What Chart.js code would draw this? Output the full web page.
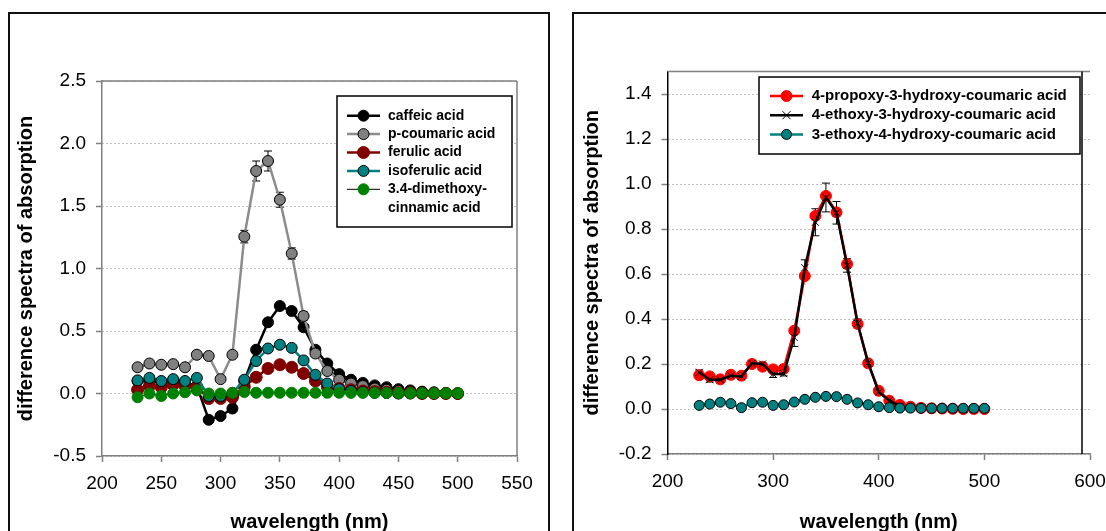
<!DOCTYPE html>
<html>
<head>
<meta charset="utf-8">
<script src="https://cdn.jsdelivr.net/npm/chart.js@4.4.0/dist/chart.umd.min.js"></script>
<style>
html, body { margin: 0; padding: 0; background: #fff; overflow: hidden; width: 1106px; height: 531px; }
.panel { position: absolute; box-sizing: border-box; border: 2px solid #111; }
#p1 { left: 8px; top: 12px; width: 542px; height: 540px; }
#p2 { left: 572px; top: 12px; width: 600px; height: 540px; }
canvas { position: absolute; }
#c1 { left: 9px; top: 13px; width: 540px; height: 521px; }
#c2 { left: 573px; top: 13px; width: 560px; height: 521px; }
</style>
</head>
<body>
<div class="panel" id="p1"></div>
<div class="panel" id="p2"></div>
<canvas id="c1" width="540" height="521"></canvas>
<canvas id="c2" width="560" height="521"></canvas>
<script>
// wavelengths (nm), same for every series
var wavelengths = [230, 240, 250, 260, 270, 280, 290, 300, 310, 320, 330, 340, 350, 360,
                   370, 380, 390, 400, 410, 420, 430, 440, 450, 460, 470, 480, 490, 500];

// left panel
var leftNames = ['caffeic acid', 'p-coumaric acid', 'ferulic acid', 'isoferulic acid', '3.4-dimethoxy-cinnamic acid'];
var leftLegend = [['caffeic acid'], ['p-coumaric acid'], ['ferulic acid'], ['isoferulic acid'], ['3.4-dimethoxy-', 'cinnamic acid']];
var caffeic = [0.10, 0.10, 0.09, 0.10, 0.09, 0.06, -0.21, -0.18, -0.12, 0.10, 0.35, 0.57, 0.70, 0.66,
               0.53, 0.35, 0.24, 0.155, 0.11, 0.085, 0.065, 0.05, 0.035, 0.025, 0.015, 0.01, 0.005, 0.0];
var pCoumaric = [0.21, 0.24, 0.23, 0.235, 0.21, 0.31, 0.30, 0.115, 0.31, 1.255, 1.78, 1.86, 1.55, 1.12,
                 0.62, 0.32, 0.18, 0.11, 0.08, 0.06, 0.04, 0.03, 0.02, 0.015, 0.01, 0.005, 0.003, 0.0];
var pCoumaricErr = [0, 0, 0, 0, 0, 0, 0, 0, 0, 0.05, 0.08, 0.08, 0.06, 0.045,
                    0.035, 0, 0, 0, 0, 0, 0, 0, 0, 0, 0, 0, 0, 0];
var ferulic = [0.03, 0.06, 0.05, 0.07, 0.06, 0.05, -0.04, -0.04, -0.03, 0.055, 0.13, 0.20, 0.23, 0.21,
               0.16, 0.10, 0.055, 0.04, 0.03, 0.02, 0.015, 0.01, 0.005, 0.005, 0.0, 0.0, 0.0, 0.0];
var isoferulic = [0.105, 0.125, 0.10, 0.115, 0.10, 0.125, -0.02, -0.02, 0.005, 0.11, 0.26, 0.36, 0.39, 0.365,
                  0.265, 0.15, 0.08, 0.035, 0.02, 0.01, 0.005, 0.005, 0.0, 0.0, 0.0, 0.0, 0.0, 0.0];
var dimethoxy = [-0.03, 0.0, -0.02, 0.0, 0.01, 0.025, 0.0, 0.0, 0.005, 0.012, 0.006, 0.006, 0.006, 0.006,
                 0.006, 0.006, 0.006, 0.006, 0.005, 0.005, 0.005, 0.004, 0.004, 0.003, 0.003, 0.002, 0.002, 0.002];
var leftXTicks = [200, 550, 50];
var leftYTicks = [-0.5, 2.5, 0.5];

// right panel
var rightNames = ['4-propoxy-3-hydroxy-coumaric acid', '4-ethoxy-3-hydroxy-coumaric acid', '3-ethoxy-4-hydroxy-coumaric acid'];
var propoxy = [0.15, 0.145, 0.132, 0.152, 0.148, 0.20, 0.188, 0.176, 0.178, 0.348, 0.591, 0.858, 0.947, 0.874,
               0.644, 0.378, 0.203, 0.081, 0.037, 0.018, 0.01, 0.005, 0.003, 0.002, 0.001, 0.0, 0.0, 0.0];
var ethoxy = [0.163, 0.13, 0.13, 0.148, 0.145, 0.203, 0.20, 0.155, 0.157, 0.318, 0.628, 0.83, 0.94, 0.872,
              0.638, 0.38, 0.205, 0.075, 0.038, 0.012, 0.005, 0.003, 0.002, 0.001, 0.0, 0.0, 0.0, 0.0];
var ethoxyErr = [0.01, 0.01, 0.005, 0.005, 0.005, 0.005, 0.005, 0.015, 0.01, 0.04, 0.035, 0.06, 0.064, 0.05,
                 0.03, 0.02, 0.01, 0.005, 0, 0, 0, 0, 0, 0, 0, 0, 0, 0];
var ethoxy34 = [0.016, 0.022, 0.03, 0.024, 0.006, 0.028, 0.03, 0.016, 0.019, 0.031, 0.043, 0.052, 0.056, 0.055,
                0.043, 0.027, 0.019, 0.01, 0.006, 0.004, 0.004, 0.003, 0.003, 0.003, 0.003, 0.003, 0.003, 0.003];
var rightXTicks = [200, 600, 100];
var rightYTicks = [-0.2, 1.5, 0.2];

var F = "'Liberation Sans', Arial, sans-serif";
Chart.defaults.font.family = F;
Chart.defaults.color = '#000';

function pts(vals) {
  return vals.map(function(v, i) { return {x: wavelengths[i], y: v}; });
}

function drawMarker(ctx, ds, x, y) {
  var r = ds.pointRadius;
  ctx.save();
  ctx.lineWidth = ds.pointBorderWidth;
  ctx.strokeStyle = ds.pointBorderColor;
  ctx.fillStyle = ds.pointBackgroundColor;
  ctx.beginPath();
  if (ds.pointStyle == 'crossRot') {
    ctx.moveTo(x - r * 0.8, y - r * 0.8); ctx.lineTo(x + r * 0.8, y + r * 0.8);
    ctx.moveTo(x + r * 0.8, y - r * 0.8); ctx.lineTo(x - r * 0.8, y + r * 0.8);
    ctx.stroke();
  } else {
    ctx.arc(x, y, r, 0, Math.PI * 2);
    ctx.fill();
    if (ds.pointBorderWidth > 0) ctx.stroke();
  }
  ctx.restore();
}

// error bars, drawn under the markers
var errorBars = {
  id: 'errorBars',
  beforeDatasetsDraw: function(chart) {
    var ctx = chart.ctx, xs = chart.scales.x, ys = chart.scales.y;
    chart.data.datasets.forEach(function(ds) {
      if (!ds.errors) return;
      ctx.save();
      ctx.strokeStyle = '#000';
      ctx.lineWidth = 1;
      ds.data.forEach(function(p, i) {
        var e = ds.errors[i];
        if (!e) return;
        var x = xs.getPixelForValue(p.x);
        var y1 = ys.getPixelForValue(p.y + e), y2 = ys.getPixelForValue(p.y - e);
        ctx.beginPath();
        ctx.moveTo(x, y1); ctx.lineTo(x, y2);
        ctx.moveTo(x - 4, y1); ctx.lineTo(x + 4, y1);
        ctx.moveTo(x - 4, y2); ctx.lineTo(x + 4, y2);
        ctx.stroke();
      });
      ctx.restore();
    });
  }
};

// gray frame round the plot area
var plotFrame = {
  id: 'plotFrame',
  afterDatasetsDraw: function(chart, args, o) {
    var a = chart.chartArea, ctx = chart.ctx;
    ctx.save();
    ctx.lineWidth = 1.5;
    ctx.strokeStyle = o.color;
    ctx.beginPath();
    ctx.moveTo(a.left, a.top); ctx.lineTo(a.right, a.top);
    ctx.stroke();
    ctx.strokeStyle = o.rightColor;
    ctx.beginPath();
    ctx.moveTo(a.right - o.rightInset, a.top); ctx.lineTo(a.right - o.rightInset, a.bottom);
    ctx.stroke();
    ctx.restore();
  }
};

// legend box inside the plot
var boxLegend = {
  id: 'boxLegend',
  afterDraw: function(chart, args, o) {
    var ctx = chart.ctx;
    ctx.save();
    ctx.fillStyle = '#fff';
    ctx.fillRect(o.x, o.y, o.w, o.h);
    ctx.strokeStyle = '#000';
    ctx.lineWidth = 1.5;
    ctx.strokeRect(o.x, o.y, o.w, o.h);
    ctx.font = 'bold ' + o.size + 'px ' + F;
    ctx.textBaseline = 'middle';
    var row = 0;
    chart.data.datasets.forEach(function(ds, i) {
      var y = o.y + o.firstRow + row * o.rowH;
      ctx.strokeStyle = ds.borderColor;
      ctx.lineWidth = ds.borderWidth;
      ctx.beginPath();
      ctx.moveTo(o.x + o.lineX0, y); ctx.lineTo(o.x + o.lineX1, y);
      ctx.stroke();
      drawMarker(ctx, ds, o.x + (o.lineX0 + o.lineX1) / 2, y);
      ctx.fillStyle = '#000';
      o.labels[i].forEach(function(t, k) {
        ctx.fillText(t, o.x + o.textX, y + k * o.rowH);
      });
      row += o.labels[i].length;
    });
    ctx.restore();
  }
};

function axes(xt, yt, xh, yw, titlePad, leftColor, filterTop) {
  return {
    x: {
      type: 'linear', min: xt[0], max: xt[1],
      ticks: {stepSize: xt[2], font: {size: 19}, padding: 10, maxRotation: 0, color: '#000'},
      grid: {drawOnChartArea: false, drawTicks: true, tickLength: 6, tickColor: '#808080', tickWidth: 1.5},
      border: {display: true, color: '#808080', width: 1.5},
      title: {display: true, text: 'wavelength (nm)', font: {size: 20, weight: 'bold'}, color: '#000', padding: 0},
      afterFit: function(s) { s.height = xh; }
    },
    y: {
      type: 'linear', min: yt[0], max: yt[1],
      ticks: {stepSize: yt[2], font: {size: 19}, padding: 10, color: '#000',
              callback: function(v) { return v.toFixed(1); }},
      grid: {color: '#808080', lineWidth: 1, drawTicks: true, tickLength: 6, tickColor: '#808080', tickWidth: 1.5},
      border: {display: true, color: leftColor, width: 1.5, dash: [1, 3]},
      title: {display: true, text: 'difference spectra of absorption', font: {size: 20, weight: 'bold'},
              color: '#000', padding: {top: titlePad, bottom: 0}},
      afterBuildTicks: function(s) {
        if (filterTop) s.ticks = s.ticks.filter(function(t) { return t.value < filterTop; });
      },
      afterFit: function(s) { s.width = yw; }
    }
  };
}

function line(label, values, color, width, fill, border, radius, style, order) {
  return {
    label: label, data: pts(values), borderColor: color, borderWidth: width,
    pointBackgroundColor: fill, pointBorderColor: border, pointBorderWidth: 1,
    pointRadius: radius, pointStyle: style || 'circle', order: order, tension: 0, fill: false
  };
}

var leftSets = [
  line(leftNames[0], caffeic, '#000000', 2.5, '#000000', '#000000', 5.5, 'circle', 5),
  line(leftNames[1], pCoumaric, '#8c8c8c', 2.5, '#808080', '#000000', 5.5, 'circle', 4),
  line(leftNames[2], ferulic, '#800000', 2.5, '#800000', '#800000', 6, 'circle', 3),
  line(leftNames[3], isoferulic, '#008080', 2.5, '#008080', '#000000', 5.5, 'circle', 2),
  line(leftNames[4], dimethoxy, '#000000', 1, '#008000', '#008000', 5.5, 'circle', 1)
];
leftSets[1].errors = pCoumaricErr;

new Chart(document.getElementById('c1'), {
  type: 'line',
  data: {datasets: leftSets},
  options: {
    responsive: false, animation: false, events: [],
    layout: {padding: {top: 68, right: 32, left: 0, bottom: 0}},
    scales: axes(leftXTicks, leftYTicks, 78, 93, 5, '#808080', null),
    plugins: {
      legend: {display: false}, tooltip: {enabled: false},
      plotFrame: {color: '#808080', rightColor: '#808080', rightInset: 0},
      boxLegend: {x: 328, y: 83, w: 175, h: 131, firstRow: 19.7, rowH: 18.4,
                  lineX0: 10, lineX1: 43, textX: 51, size: 14, labels: leftLegend}
    }
  },
  plugins: [errorBars, plotFrame, boxLegend]
});

var rightSets = [
  line(rightNames[0], propoxy, '#ff0000', 2.5, '#ff0000', '#ff0000', 5.5, 'circle', 3),
  line(rightNames[1], ethoxy, '#000000', 2.5, '#000000', '#000000', 5, 'crossRot', 2),
  line(rightNames[2], ethoxy34, '#008080', 2.5, '#008080', '#000000', 5, 'circle', 1)
];
rightSets[1].errors = ethoxyErr;

new Chart(document.getElementById('c2'), {
  type: 'line',
  data: {datasets: rightSets},
  options: {
    responsive: false, animation: false, events: [],
    layout: {padding: {top: 58.5, right: 43, left: 0, bottom: 0}},
    scales: axes(rightXTicks, rightYTicks, 80, 94.5, 7, '#000000', 1.45),
    plugins: {
      legend: {display: false}, tooltip: {enabled: false},
      plotFrame: {color: '#808080', rightColor: '#000000', rightInset: 8},
      boxLegend: {x: 186, y: 64, w: 321, h: 77, firstRow: 19, rowH: 19.2,
                  lineX0: 11, lineX1: 44, textX: 52.7, size: 15,
                  labels: rightNames.map(function(n) { return [n]; })}
    }
  },
  plugins: [errorBars, plotFrame, boxLegend]
});
</script>
</body>
</html>
